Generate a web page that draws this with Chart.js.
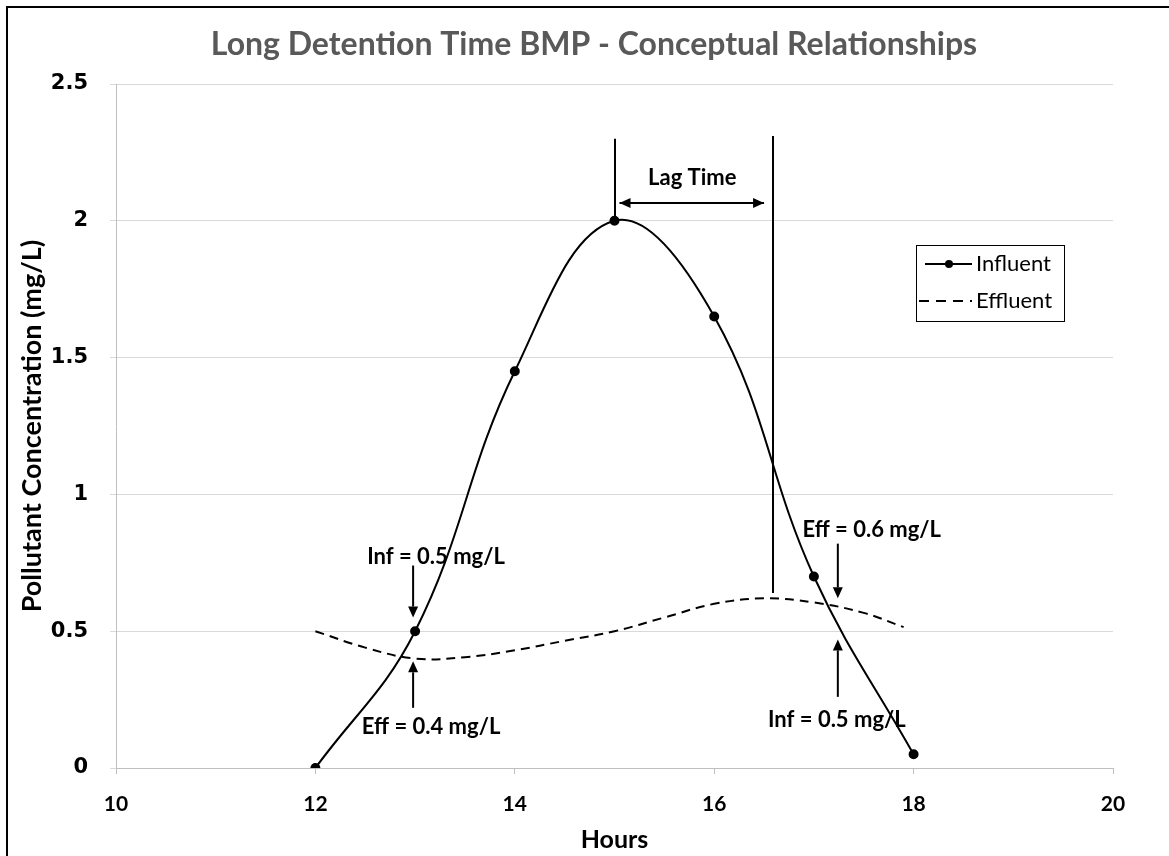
<!DOCTYPE html>
<html>
<head>
<meta charset="utf-8">
<script src="https://cdn.jsdelivr.net/npm/chart.js@4.4.1/dist/chart.umd.min.js"></script>
<style>
  html, body { margin: 0; padding: 0; background: #fff; overflow: hidden; }
  #frame { position: absolute; left: 6px; top: 6px; width: 1300px; height: 1000px;
           border-left: 2px solid #000; border-top: 2px solid #000; }
  #wrap { position: absolute; left: 0; top: 0; width: 1169px; height: 856px; }
</style>
</head>
<body>
<div id="frame"></div>
<div id="wrap"><canvas id="chart" width="1169" height="856"></canvas></div>
<script>
// --- data ---
const hours = [12, 13, 14, 15, 16, 17, 18];
const influent = [0, 0.5, 1.45, 2.0, 1.65, 0.7, 0.05];

const effHours = [12, 12.5, 13, 13.5, 14, 14.5, 15, 15.5, 16, 16.5, 17, 17.5, 17.9];
const effluent = [0.5, 0.44, 0.4, 0.405, 0.43, 0.465, 0.5, 0.55, 0.6, 0.62, 0.605, 0.567, 0.515];

const xTicks = [10, 12, 14, 16, 18, 20];
const yTicks = [0, 0.5, 1, 1.5, 2, 2.5];

// vertical reference lines [x, yFrom, yTo]
const refLines = [[15, 2.0, 2.3], [16.59, 0.64, 2.31]];
// arrows [x1, y1, x2, y2], head at the second point
const arrows = [
  [15.05, 2.065, 16.5, 2.065],
  [16.5, 2.065, 15.05, 2.065],
  [12.98, 0.74, 12.98, 0.55],
  [12.98, 0.22, 12.98, 0.39],
  [17.24, 0.82, 17.24, 0.62],
  [17.24, 0.26, 17.24, 0.47]
];
// notes [text, x, y]
const notes = [
  ['Lag Time', 15.78, 2.155],
  ['Inf = 0.5 mg/L', 13.21, 0.77],
  ['Eff = 0.4 mg/L', 13.16, 0.15],
  ['Eff = 0.6 mg/L', 17.58, 0.87],
  ['Inf = 0.5 mg/L', 17.23, 0.175]
];

const FONT = "Lato, 'Open Sans', sans-serif";

const overlay = {
  id: 'overlay',
  afterDatasetsDraw(chart) {
    const ctx = chart.ctx, xs = chart.scales.x, ys = chart.scales.y;
    ctx.save();
    ctx.strokeStyle = '#000';
    ctx.lineWidth = 2;
    refLines.forEach(([x, a, b]) => {
      const px = Math.round(xs.getPixelForValue(x));
      ctx.beginPath();
      ctx.moveTo(px, ys.getPixelForValue(a));
      ctx.lineTo(px, ys.getPixelForValue(b));
      ctx.stroke();
    });
    arrows.forEach(([x1, y1, x2, y2]) => {
      const p1 = [xs.getPixelForValue(x1), ys.getPixelForValue(y1)];
      const p2 = [xs.getPixelForValue(x2), ys.getPixelForValue(y2)];
      const ang = Math.atan2(p2[1] - p1[1], p2[0] - p1[0]);
      const hl = 11, hw = 5;
      const bx = p2[0] - hl * Math.cos(ang), by = p2[1] - hl * Math.sin(ang);
      ctx.lineWidth = 2;
      ctx.beginPath();
      ctx.moveTo(p1[0], p1[1]);
      ctx.lineTo(bx, by);
      ctx.stroke();
      ctx.beginPath();
      ctx.moveTo(p2[0], p2[1]);
      ctx.lineTo(bx - hw * Math.sin(ang), by + hw * Math.cos(ang));
      ctx.lineTo(bx + hw * Math.sin(ang), by - hw * Math.cos(ang));
      ctx.closePath();
      ctx.fillStyle = '#000';
      ctx.fill();
    });
    ctx.font = 'bold 22px ' + FONT;
    ctx.textAlign = 'center';
    ctx.textBaseline = 'middle';
    ctx.fillStyle = '#000';
    notes.forEach(([t, x, y]) => ctx.fillText(t, xs.getPixelForValue(x), ys.getPixelForValue(y)));

    // title
    ctx.font = 'bold 32px ' + FONT;
    ctx.fillStyle = '#595959';
    ctx.fillText('Long Detention Time BMP - Conceptual Relationships', 594, 45);

    // legend box
    const lx = 916, ly = 245, lw = 148, lh = 76;
    ctx.fillStyle = '#fff';
    ctx.fillRect(lx, ly, lw, lh);
    ctx.lineWidth = 1;
    ctx.strokeStyle = '#000';
    ctx.strokeRect(lx + 0.5, ly + 0.5, lw, lh);
    ctx.font = '22px ' + FONT;
    ctx.textAlign = 'left';
    ctx.fillStyle = '#000';
    chart.data.datasets.forEach((ds, i) => {
      const ry = ly + 19 + i * 37;
      ctx.lineWidth = 2;
      ctx.setLineDash(ds.borderDash ? [10, 7] : []);
      ctx.beginPath();
      ctx.moveTo(lx + (ds.borderDash ? 3 : 9), ry);
      ctx.lineTo(lx + 56, ry);
      ctx.stroke();
      ctx.setLineDash([]);
      if (ds.pointRadius) {
        ctx.beginPath();
        ctx.arc(lx + 33, ry, 4, 0, Math.PI * 2);
        ctx.fill();
      }
      ctx.fillText(ds.label, lx + 60, ry);
    });
    ctx.restore();
  }
};

new Chart(document.getElementById('chart'), {
  type: 'scatter',
  data: {
    datasets: [
      {
        label: 'Influent',
        data: hours.map((h, i) => ({ x: h, y: influent[i] })),
        showLine: true,
        borderColor: '#000',
        backgroundColor: '#000',
        borderWidth: 2,
        pointRadius: 4,
        tension: 0.4
      },
      {
        label: 'Effluent',
        data: effHours.map((h, i) => ({ x: h, y: effluent[i] })),
        showLine: true,
        borderColor: '#000',
        borderWidth: 2,
        borderDash: [9, 6],
        pointRadius: 0,
        tension: 0.4
      }
    ]
  },
  options: {
    responsive: false,
    animation: false,
    layout: { padding: { top: 84, right: 56, left: 0, bottom: 0 } },
    plugins: { legend: { display: false }, tooltip: { enabled: false }, title: { display: false } },
    scales: {
      x: {
        type: 'linear', min: 10, max: 20,
        afterBuildTicks: s => { s.ticks = xTicks.map(v => ({ value: v })); },
        afterFit: s => { s.height = 88; },
        grid: { drawOnChartArea: false, drawTicks: true, tickLength: 6, color: '#bfbfbf' },
        border: { color: '#bfbfbf', width: 1 },
        ticks: { color: '#000', padding: 18, font: { family: FONT, size: 21, weight: 'bold' } },
        title: { display: true, text: 'Hours', color: '#000', padding: { top: 0, bottom: 1 },
                 font: { family: FONT, size: 25, weight: 'bold' } }
      },
      y: {
        type: 'linear', min: 0, max: 2.5,
        afterBuildTicks: s => { s.ticks = yTicks.map(v => ({ value: v })); },
        afterFit: s => { s.width = 116; },
        grid: { color: '#d9d9d9', tickLength: 6, drawTicks: true },
        border: { color: '#bfbfbf', width: 1 },
        ticks: { color: '#000', padding: 22, callback: v => String(v),
                 font: { family: "'DejaVu Sans'", size: 21, weight: 'bold' } },
        title: { display: true, text: 'Pollutant Concentration (mg/L)', color: '#000', padding: { top: 16, bottom: 0 },
                 font: { family: FONT, size: 27, weight: 'bold' } }
      }
    }
  },
  plugins: [overlay]
});
</script>
</body>
</html>
